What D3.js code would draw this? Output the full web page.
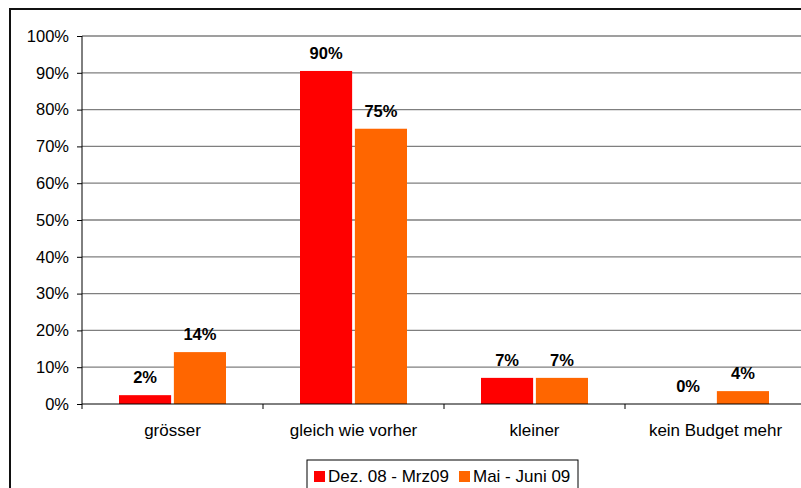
<!DOCTYPE html>
<html>
<head>
<meta charset="utf-8">
<script src="https://cdn.jsdelivr.net/npm/d3@7"></script>
<style>
  body { margin: 0; background: #fff; }
  svg { display: block; font-family: "Liberation Sans", Arial, sans-serif; }
</style>
</head>
<body>
<script>
// chart data
var categories = ["grösser", "gleich wie vorher", "kleiner", "kein Budget mehr"];
var seriesNames = ["Dez. 08 - Mrz09", "Mai - Juni 09"];
var seriesColors = ["#ff0000", "#ff6600"];
var dezValues = [2.4, 90.5, 7.1, 0];
var maiValues = [14.1, 74.8, 7.1, 3.5];
var dezLabels = ["2%", "90%", "7%", "0%"];
var maiLabels = ["14%", "75%", "7%", "4%"];
var yTicks = [0, 10, 20, 30, 40, 50, 60, 70, 80, 90, 100];

var svgWidth = 801;
var svgHeight = 488;

var margin = { top: 36, left: 82, bottom: 84 };
var plotWidth = 724; // runs past the right edge like the original
var plotHeight = svgHeight - margin.top - margin.bottom;

var svg = d3.select("body")
  .append("svg")
  .attr("width", svgWidth)
  .attr("height", svgHeight);

// outer frame
svg.append("rect")
  .attr("x", 10)
  .attr("y", 9)
  .attr("width", 820)
  .attr("height", 500)
  .attr("fill", "none")
  .attr("stroke", "#111")
  .attr("stroke-width", 2);

var chartGroup = svg.append("g")
  .attr("transform", `translate(${margin.left}, ${margin.top})`);

var xScale = d3.scaleBand()
  .domain(categories)
  .range([0, plotWidth]);

var xInner = d3.scaleBand()
  .domain([0, 1])
  .range([37, xScale.bandwidth() - 37])
  .paddingInner(0.05);

var yScale = d3.scaleLinear()
  .domain([0, 100])
  .range([plotHeight, 0]);

// gridlines
chartGroup.append("g")
  .selectAll("line")
  .data(yTicks.filter(d => d > 0))
  .enter()
  .append("line")
  .attr("x1", 0)
  .attr("x2", plotWidth)
  .attr("y1", d => yScale(d))
  .attr("y2", d => yScale(d))
  .attr("stroke", "#7f7f7f")
  .attr("stroke-width", 1.3);

// y axis
var leftAxis = d3.axisLeft(yScale)
  .tickValues(yTicks)
  .tickSize(5)
  .tickPadding(8)
  .tickFormat(d => d + "%");

var yAxisG = chartGroup.append("g").call(leftAxis);
yAxisG.select(".domain").attr("stroke", "#000").attr("d", `M0,0V${plotHeight}`);
yAxisG.selectAll("line").attr("stroke", "#000");
yAxisG.selectAll("text")
  .attr("font-size", 16.5)
  .attr("font-family", "Liberation Sans, Arial, sans-serif")
  .attr("fill", "#000");

// bars
var series = [dezValues, maiValues];
var labels = [dezLabels, maiLabels];

series.forEach(function (vals, s) {
  chartGroup.append("g")
    .selectAll("rect")
    .data(vals)
    .enter()
    .append("rect")
    .attr("x", (d, i) => xScale(categories[i]) + xInner(s))
    .attr("y", d => yScale(d))
    .attr("width", xInner.bandwidth())
    .attr("height", d => plotHeight - yScale(d))
    .attr("fill", seriesColors[s]);

  chartGroup.append("g")
    .selectAll("text")
    .data(vals)
    .enter()
    .append("text")
    .attr("x", (d, i) => xScale(categories[i]) + xInner(s) + xInner.bandwidth() / 2)
    .attr("y", d => yScale(d) - 12)
    .attr("text-anchor", "middle")
    .attr("font-size", 16.5)
    .attr("font-weight", "bold")
    .text((d, i) => labels[s][i]);
});

// x axis
var bottomAxis = d3.axisBottom(xScale).tickSize(0).tickPadding(20);
var xAxisG = chartGroup.append("g")
  .attr("transform", `translate(0, ${plotHeight})`)
  .call(bottomAxis);
xAxisG.select(".domain").attr("stroke", "#000").attr("d", `M0,0H${plotWidth}`);
xAxisG.selectAll("text")
  .attr("font-size", 17)
  .attr("font-family", "Liberation Sans, Arial, sans-serif")
  .attr("fill", "#000");

// category separators
xAxisG.selectAll(".sep")
  .data(categories)
  .enter()
  .append("line")
  .attr("class", "sep")
  .attr("x1", d => xScale(d))
  .attr("x2", d => xScale(d))
  .attr("y1", 0)
  .attr("y2", 5)
  .attr("stroke", "#000");

// legend
var legend = svg.append("g").attr("transform", "translate(307, 460)");
legend.append("rect")
  .attr("width", 271)
  .attr("height", 40)
  .attr("fill", "#fff")
  .attr("stroke", "#000");

var legendX = [7, 152];
seriesNames.forEach(function (name, s) {
  legend.append("rect")
    .attr("x", legendX[s])
    .attr("y", 11)
    .attr("width", 11)
    .attr("height", 11)
    .attr("fill", seriesColors[s]);
  legend.append("text")
    .attr("x", legendX[s] + 14)
    .attr("y", 22)
    .attr("font-size", 17)
    .text(name);
});
</script>
</body>
</html>
